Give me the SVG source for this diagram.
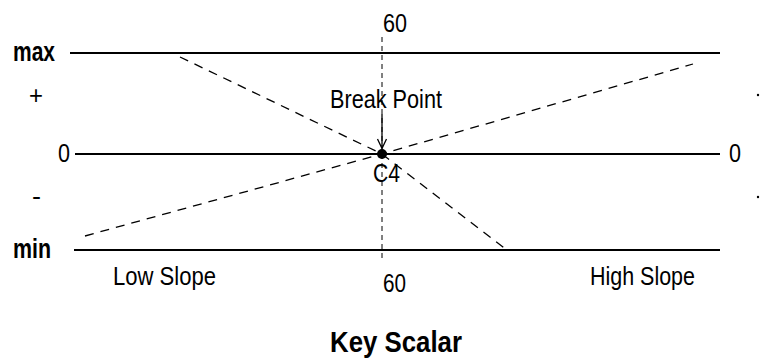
<svg xmlns="http://www.w3.org/2000/svg" width="761" height="358" viewBox="0 0 761 358">
<style>
  text { font-family: "Liberation Sans", Arial, sans-serif; fill: #000; }
  .r { font-size: 25px; }
  .b { font-size: 28px; font-weight: bold; }
  .t { font-size: 29px; font-weight: bold; }
  .axis { stroke: #000; stroke-width: 2; fill: none; }
  .dash { stroke: #000; stroke-width: 1.3; fill: none; stroke-dasharray: 9 7; }
  .vdash { stroke: #000; stroke-width: 1; fill: none; stroke-dasharray: 5 4; }
  .arrow { stroke: #000; stroke-width: 1.3; fill: none; }
</style>
<rect width="761" height="358" fill="#fff"/>
<g id="connectors">
  <line class="axis" x1="70" y1="53" x2="720" y2="53"/>
  <line class="axis" x1="75" y1="154" x2="720" y2="154"/>
  <line class="axis" x1="74" y1="250" x2="720" y2="250"/>
  <line class="vdash" x1="382" y1="37" x2="382" y2="258"/>
  <polyline class="dash" points="180,57 382,154 507,250"/>
  <polyline class="dash" points="85,236 382,154 693,64"/>
  <line class="arrow" x1="382" y1="114" x2="382" y2="148"/>
  <path class="arrow" d="M377.5,139 L382,148.5 L386.5,139"/>
</g>
<g id="breakpoint">
  <circle cx="382" cy="154" r="5" fill="#000"/>
  <text class="r" x="330" y="108" textLength="112" lengthAdjust="spacingAndGlyphs">Break Point</text>
  <text class="r" x="373" y="182" font-size="23" textLength="27" lengthAdjust="spacingAndGlyphs">C4</text>
</g>
<g id="labels-left">
  <text class="b" x="13" y="61" textLength="42" lengthAdjust="spacingAndGlyphs">max</text>
  <text class="r" x="29" y="104" font-size="27" textLength="14" lengthAdjust="spacingAndGlyphs">+</text>
  <text class="r" x="58" y="162" font-size="27" textLength="12" lengthAdjust="spacingAndGlyphs">0</text>
  <text class="r" x="32" y="205" font-size="27" textLength="9" lengthAdjust="spacingAndGlyphs">-</text>
  <text class="b" x="13" y="258" textLength="38" lengthAdjust="spacingAndGlyphs">min</text>
</g>
<g id="labels-right">
  <text class="r" x="729" y="162" font-size="27" textLength="12" lengthAdjust="spacingAndGlyphs">0</text>
  <circle cx="758" cy="95" r="1.2" fill="#000"/>
  <circle cx="758" cy="197" r="1.2" fill="#000"/>
</g>
<g id="labels-scale">
  <text class="r" x="383" y="32" textLength="24" lengthAdjust="spacingAndGlyphs">60</text>
  <text class="r" x="383" y="292" textLength="23" lengthAdjust="spacingAndGlyphs">60</text>
  <text class="r" x="113" y="285" font-size="26" textLength="103" lengthAdjust="spacingAndGlyphs">Low Slope</text>
  <text class="r" x="590" y="285" font-size="26" textLength="105" lengthAdjust="spacingAndGlyphs">High Slope</text>
</g>
<g id="title">
  <text class="t" x="330" y="352" textLength="132" lengthAdjust="spacingAndGlyphs">Key Scalar</text>
</g>
</svg>
